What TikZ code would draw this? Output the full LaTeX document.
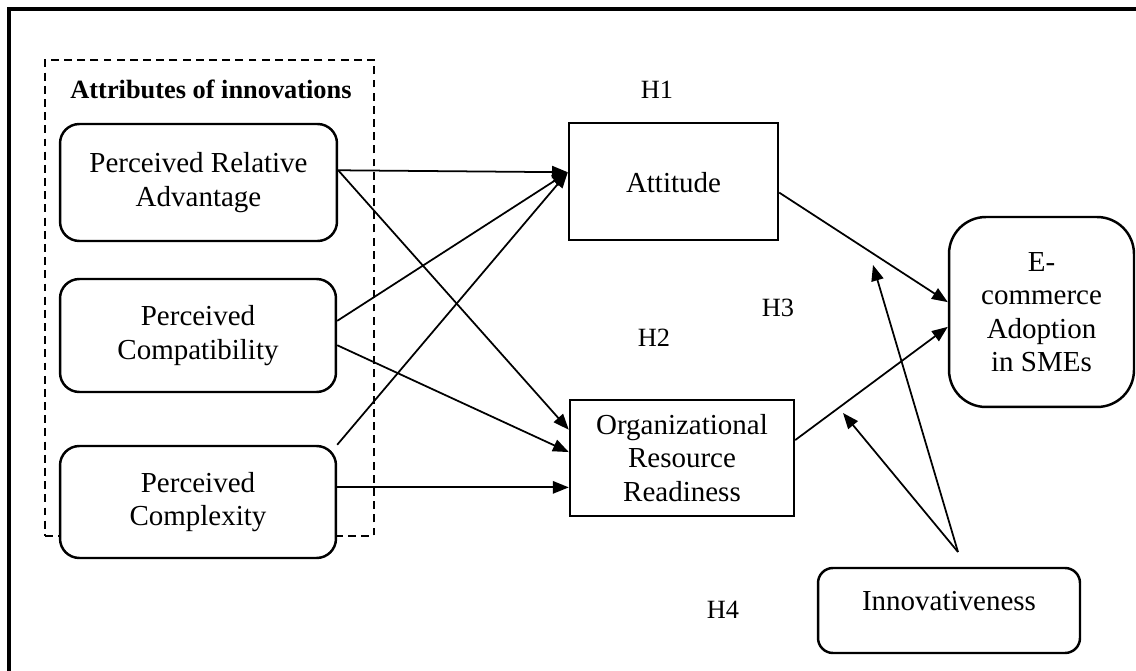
\documentclass[tikz,border=0pt]{standalone}
\usepackage{fontspec}
\setmainfont{Liberation Serif}
\usetikzlibrary{arrows.meta,positioning,calc}

\begin{document}
\begin{tikzpicture}[x=0.02cm,y=-0.02cm,
  construct/.style={draw,line width=1.4pt,rounded corners=11pt,fill=white,align=center,font=\fontsize{16.5}{19}\selectfont},
  factor/.style={draw,line width=1.4pt,fill=white,align=center,font=\fontsize{16.5}{19}\selectfont},
  hyp/.style={font=\fontsize{15}{18}\selectfont},
  link/.style={line width=1pt,-{Triangle[length=9pt,width=7pt]}}]
  \useasboundingbox (0,0) rectangle (1136,671);

  % Outer frame (top and left only)
  \draw[line width=1.8pt] (9,671) -- (9,9) -- (1136,9);

  % Attributes of innovations
  \node[draw,dashed,dash pattern=on 4.5pt off 3pt,line width=1.2pt,minimum width=6.58cm,minimum height=9.52cm] (attrbox) at (209.5,298) {};
  \node[font=\fontsize{15}{18}\selectfont\bfseries] (attrtitle) at (211,89) {Attributes of innovations};
  \node[construct,minimum width=5.54cm,minimum height=2.34cm] (pra) at (198.5,182.5) {Perceived Relative\\Advantage};
  \node[construct,minimum width=5.52cm,minimum height=2.26cm] (pcomp) at (198,335.5) {Perceived\\Compatibility};
  \node[construct,minimum width=5.52cm,minimum height=2.24cm] (pcplx) at (198,502) {Perceived\\Complexity};

  % Mediators
  \node[factor,text height=12pt,text depth=0pt,minimum width=4.18cm,minimum height=2.34cm] (att) at (673.5,181.5) {Attitude};
  \node[factor,minimum width=4.48cm,minimum height=2.32cm] (orr) at (682,458) {Organizational\\Resource\\Readiness};

  % Outcome and moderator
  \node[construct,rounded corners=21pt,minimum width=3.7cm,minimum height=3.8cm] (ecom) at (1041.5,312) {E-\\commerce\\Adoption\\in SMEs};
  \node[construct,rounded corners=8.5pt,text height=11pt,text depth=11pt,minimum width=5.24cm,minimum height=1.7cm] (inno) at (949,610.5) {Innovativeness};

  % Hypotheses
  \node[hyp] (h1) at (657,89.5) {H1};
  \node[hyp] (h2) at (654,337.5) {H2};
  \node[hyp] (h3) at (778,307.5) {H3};
  \node[hyp] (h4) at (723,609.5) {H4};

  % Paths
  \draw[link] (pra.5) -- (att.175);
  \draw[link] (pra.5) -- (orr.166);
  \draw[link] (pcomp.6) -- (att.175);
  \draw[link] (pcomp.-4) -- (orr.177);
  \draw[link] (pcplx.north east) -- (att.175);
  \draw[link] (pcplx.6) -- (pcplx.6 -| orr.west);
  \draw[link] (att.-6) -- (ecom.174);
  \draw[link] (orr.9) -- (ecom.189);

  % Moderation
  \coordinate (src) at (958,552);
  \coordinate (h3tip) at (873,265);
  \coordinate (h4tip) at (843,413);
  \draw[link] (src) -- (h3tip);
  \draw[link] (src) -- (h4tip);
\end{tikzpicture}
\end{document}
